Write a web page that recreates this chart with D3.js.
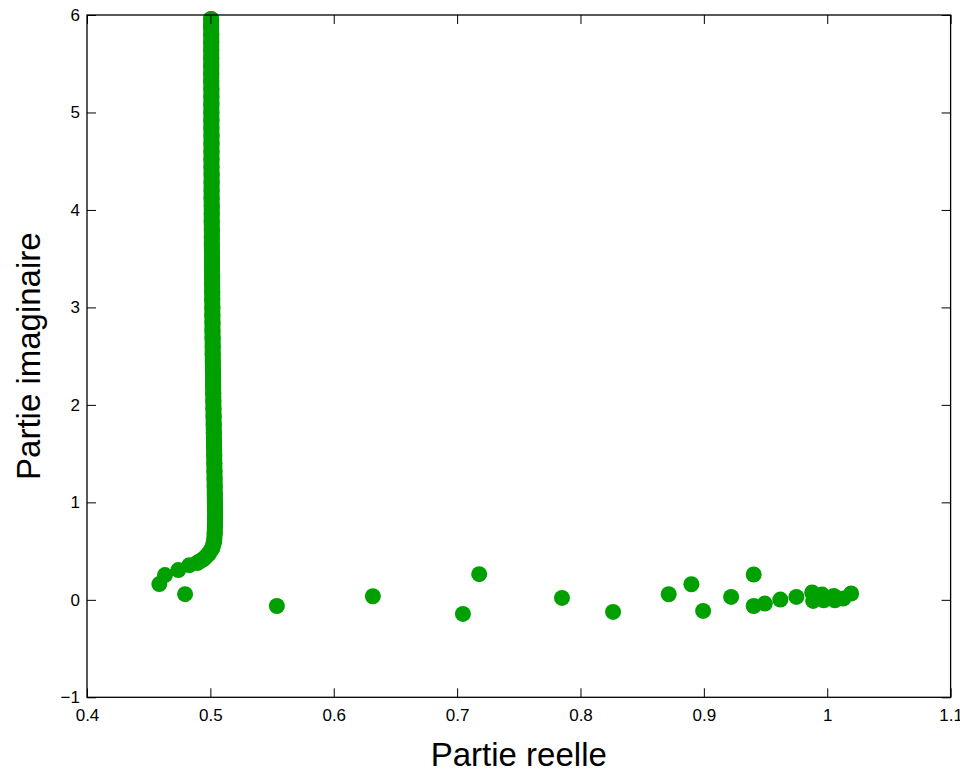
<!DOCTYPE html>
<html>
<head>
<meta charset="utf-8">
<script src="https://cdn.jsdelivr.net/npm/d3@7"></script>
<style>
body { margin: 0; background: #fff; }
svg { display: block; font-family: "Liberation Sans", Arial, Helvetica, sans-serif; }
</style>
</head>
<body>
<div id="chart"></div>
<script>
// ticks
const xTicks = [0.4, 0.5, 0.6, 0.7, 0.8, 0.9, 1, 1.1];
const xTickLabels = ["0.4", "0.5", "0.6", "0.7", "0.8", "0.9", "1", "1.1"];
const yTicks = [-1, 0, 1, 2, 3, 4, 5, 6];
const yTickLabels = ["\u22121", "0", "1", "2", "3", "4", "5", "6"];

// dense branch near Re = 1/2 (real part, imaginary part)
const bandRe = [0.4895, 0.4945, 0.4985, 0.5015, 0.5030, 0.5035, 0.5037, 0.5038, 0.5038, 0.5037,
  0.5036, 0.5035, 0.5034, 0.5033, 0.5032, 0.5031, 0.5030, 0.5029, 0.5028, 0.5027,
  0.5026, 0.5025, 0.5024, 0.5023, 0.5022, 0.5022, 0.5021, 0.5020, 0.5019, 0.5019,
  0.5018, 0.5017, 0.5017, 0.5016, 0.5016, 0.5015, 0.5015, 0.5014, 0.5014, 0.5013,
  0.5013, 0.5013, 0.5012, 0.5012, 0.5012, 0.5011, 0.5011, 0.5011, 0.5010, 0.5010,
  0.5010, 0.5010, 0.5009, 0.5009, 0.5009, 0.5009, 0.5009, 0.5008, 0.5008, 0.5008,
  0.5008, 0.5008, 0.5008, 0.5007, 0.5007, 0.5007, 0.5007, 0.5007, 0.5007, 0.5007,
  0.5006, 0.5006];
const bandIm = [0.38, 0.42, 0.47, 0.53, 0.60, 0.68, 0.76, 0.84, 0.92, 1.00,
  1.08, 1.16, 1.24, 1.32, 1.40, 1.48, 1.56, 1.64, 1.72, 1.80,
  1.88, 1.96, 2.04, 2.12, 2.20, 2.28, 2.36, 2.44, 2.52, 2.60,
  2.68, 2.76, 2.84, 2.92, 3.00, 3.08, 3.16, 3.24, 3.32, 3.40,
  3.48, 3.56, 3.64, 3.72, 3.80, 3.88, 3.96, 4.04, 4.12, 4.20,
  4.28, 4.36, 4.44, 4.52, 4.60, 4.68, 4.76, 4.84, 4.92, 5.00,
  5.08, 5.16, 5.24, 5.32, 5.40, 5.48, 5.56, 5.64, 5.72, 5.80,
  5.88, 5.96];

// scattered points
const ptRe = [0.4586, 0.4632, 0.4740, 0.4830, 0.4795, 0.5539, 0.6317, 0.7047, 0.7179, 0.7850,
  0.8264, 0.8715, 0.8899, 0.8994, 0.9221, 0.9404, 0.9404, 0.9494, 0.9620, 0.9750,
  0.9878, 0.9886, 0.9959, 0.9972, 1.0053, 1.0061, 1.0130, 1.0194];
const ptIm = [0.162, 0.254, 0.305, 0.356, 0.058, -0.063, 0.037, -0.145, 0.263, 0.020,
  -0.124, 0.057, 0.160, -0.114, 0.030, 0.260, -0.063, -0.038, 0.003, 0.030,
  0.075, -0.011, 0.054, -0.004, 0.040, -0.004, 0.013, 0.065];

const width = 960, height = 772;
const margin = {left: 87, right: 9.4, top: 15, bottom: 74.7};
const green = "#00a000";

const svg = d3.select("#chart").append("svg")
    .attr("width", width)
    .attr("height", height);

svg.append("rect").attr("width", width).attr("height", height).attr("fill", "#fff");

const x = d3.scaleLinear().domain([0.4, 1.1]).range([margin.left, width - margin.right]);
const y = d3.scaleLinear().domain([-1, 6]).range([height - margin.bottom, margin.top]);

const band = bandRe.map((r, i) => ({re: r, im: bandIm[i]}));
const pts = ptRe.map((r, i) => ({re: r, im: ptIm[i]}));

// markers overlap so densely on the branch that they read as one thick stroke
const line = d3.line()
    .x(d => x(d.re))
    .y(d => y(d.im));

svg.append("path")
    .datum(band)
    .attr("d", line)
    .attr("fill", "none")
    .attr("stroke", green)
    .attr("stroke-width", 16)
    .attr("stroke-linecap", "round")
    .attr("stroke-linejoin", "round");

svg.append("g")
    .selectAll("circle")
    .data(band.concat(pts))
    .join("circle")
        .attr("cx", d => x(d.re))
        .attr("cy", d => y(d.im))
        .attr("r", 8)
        .attr("fill", green);

// axes, ticks pointing inward on all four sides
const tickLen = 9;
const fmtX = (d, i) => xTickLabels[i];
const fmtY = (d, i) => yTickLabels[i];

const axBottom = svg.append("g")
    .attr("transform", "translate(0," + y(-1) + ")")
    .call(d3.axisBottom(x).tickValues(xTicks).tickFormat(fmtX).tickSizeInner(-tickLen).tickSizeOuter(0).tickPadding(12));
const axTop = svg.append("g")
    .attr("transform", "translate(0," + y(6) + ")")
    .call(d3.axisTop(x).tickValues(xTicks).tickFormat("").tickSizeInner(-tickLen).tickSizeOuter(0));
const axLeft = svg.append("g")
    .attr("transform", "translate(" + x(0.4) + ",0)")
    .call(d3.axisLeft(y).tickValues(yTicks).tickFormat(fmtY).tickSizeInner(-tickLen).tickSizeOuter(0).tickPadding(15));
const axRight = svg.append("g")
    .attr("transform", "translate(" + x(1.1) + ",0)")
    .call(d3.axisRight(y).tickValues(yTicks).tickFormat("").tickSizeInner(-tickLen).tickSizeOuter(0));

[axBottom, axTop, axLeft, axRight].forEach(g => {
    g.select(".domain").remove();
    g.selectAll(".tick line").attr("stroke", "#000");
    g.selectAll("text")
        .attr("fill", "#000")
        .style("font-size", "17px")
        .style("font-family", "'Liberation Sans', Arial, Helvetica, sans-serif");
});
axLeft.selectAll("text").attr("x", -7);

// box
svg.append("rect")
    .attr("x", x(0.4))
    .attr("y", y(6))
    .attr("width", x(1.1) - x(0.4))
    .attr("height", y(-1) - y(6))
    .attr("fill", "none")
    .attr("stroke", "#000")
    .attr("stroke-width", 1.3);

// labels
svg.append("text")
    .attr("x", (x(0.4) + x(1.1)) / 2)
    .attr("y", 766)
    .attr("text-anchor", "middle")
    .style("font-size", "33px")
    .text("Partie reelle");

svg.append("text")
    .attr("transform", "translate(40," + (y(-1) + y(6)) / 2 + ") rotate(-90)")
    .attr("text-anchor", "middle")
    .style("font-size", "33px")
    .text("Partie imaginaire");
</script>
</body>
</html>
